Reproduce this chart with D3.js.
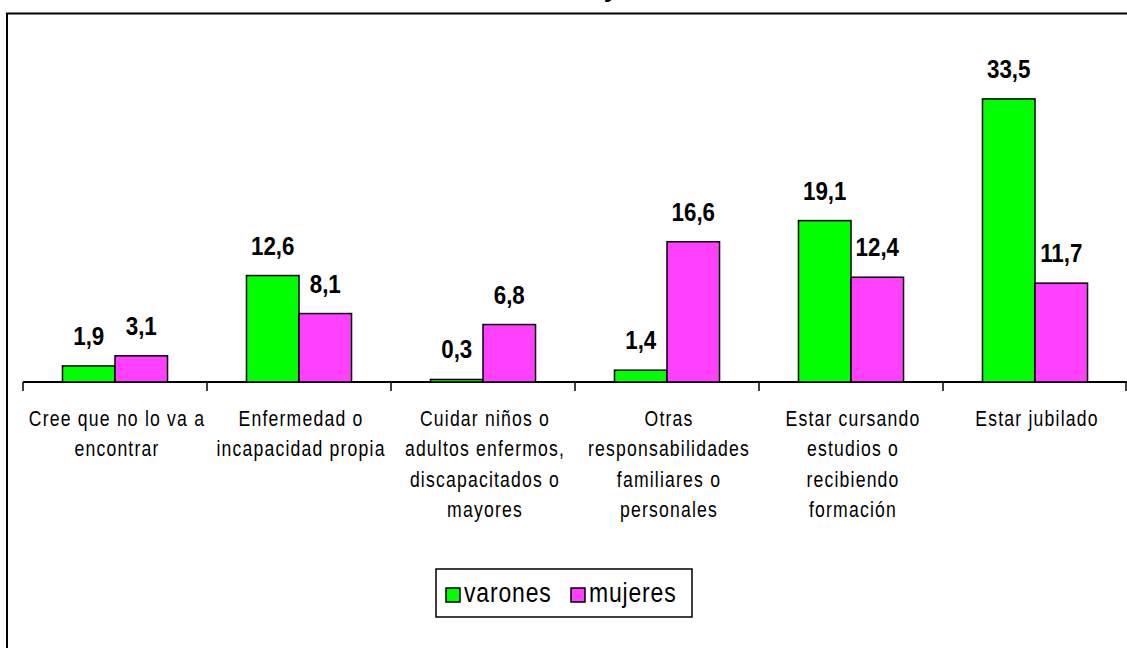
<!DOCTYPE html>
<html>
<head>
<meta charset="utf-8">
<script src="https://cdn.jsdelivr.net/npm/d3@7"></script>
<style>
  body { margin: 0; background: #fff; }
  svg { display: block; }
  text { font-family: Arial, "Liberation Sans", sans-serif; fill: #000; }
</style>
</head>
<body>
<div id="chart"></div>
<script>
// Daten
const categories = [
  ["Cree que no lo va a", "encontrar"],
  ["Enfermedad o", "incapacidad propia"],
  ["Cuidar niños o", "adultos enfermos,", "discapacitados o", "mayores"],
  ["Otras", "responsabilidades", "familiares o", "personales"],
  ["Estar cursando", "estudios o", "recibiendo", "formación"],
  ["Estar jubilado"]
];
const seriesNames = ["varones", "mujeres"];
const varones = [1.9, 12.6, 0.3, 1.4, 19.1, 33.5];
const mujeres = [3.1, 8.1, 6.8, 16.6, 12.4, 11.7];
const colors = ["#00ff00", "#ff40ff"];

const width = 1127, height = 648;
const baseY = 382;
const fmt = v => v.toFixed(1).replace(".", ",");

const svg = d3.select("#chart").append("svg")
  .attr("width", width)
  .attr("height", height);

// Rahmen (läuft rechts und unten aus dem Bild)
svg.append("rect")
  .attr("x", 7).attr("y", 13.5)
  .attr("width", 1300).attr("height", 800)
  .attr("fill", "none").attr("stroke", "#000").attr("stroke-width", 2);

// abgeschnittener Titel
svg.append("text")
  .attr("x", 611).attr("y", -3)
  .attr("text-anchor", "middle")
  .style("font-size", "26px").style("font-weight", "bold")
  .text("y");

// Skalen
const idx = d3.range(categories.length);
const x0 = d3.scaleBand().domain(idx).range([23, 1127]).padding(0);
const bw = x0.bandwidth();
const x1 = d3.scaleBand().domain(seriesNames).range([0.2145 * bw, 0.7855 * bw]).padding(0);
const y = d3.scaleLinear().domain([0, 35]).range([baseY, baseY - 35 * 8.45]);

// X-Achse
const xAxis = d3.axisBottom(x0).tickSize(0).tickFormat("");
const gx = svg.append("g")
  .attr("transform", `translate(0,${baseY})`)
  .call(xAxis);
gx.select(".domain").attr("stroke", "#000").attr("stroke-width", 2).attr("d", "M23,0H1127");

// Trennstriche zwischen Kategorien
svg.append("g").selectAll("line")
  .data(d3.range(categories.length + 1))
  .join("line")
    .attr("x1", d => 23 + d * bw - (d === categories.length ? 1 : 0))
    .attr("x2", d => 23 + d * bw - (d === categories.length ? 1 : 0))
    .attr("y1", baseY).attr("y2", baseY + 9)
    .attr("stroke", "#000").attr("stroke-width", 1.5);

// Balken
const rows = idx.map(i => [
  { s: "varones", v: varones[i], c: colors[0] },
  { s: "mujeres", v: mujeres[i], c: colors[1] }
]);

const groups = svg.append("g").selectAll("g")
  .data(rows)
  .join("g")
    .attr("transform", (d, i) => `translate(${x0(i)},0)`);

groups.selectAll("rect")
  .data(d => d)
  .join("rect")
    .attr("x", d => x1(d.s))
    .attr("y", d => y(d.v))
    .attr("width", x1.bandwidth())
    .attr("height", d => baseY - y(d.v))
    .attr("fill", d => d.c)
    .attr("stroke", "#000")
    .attr("stroke-width", 1.5);

// Wertbeschriftungen
groups.selectAll("text.val")
  .data(d => d)
  .join("text")
    .attr("class", "val")
    .attr("transform", d => `translate(${x1(d.s) + x1.bandwidth() / 2},${y(d.v) - 21}) scale(0.86,1)`)
    .attr("text-anchor", "middle")
    .style("font-size", "26px")
    .style("font-weight", "bold")
    .text(d => fmt(d.v));

// Kategorienbeschriftungen
const labels = svg.append("g").selectAll("g")
  .data(categories)
  .join("g")
    .attr("transform", (d, i) => `translate(${x0(i) + bw / 2 + 2},0)`);

labels.selectAll("text")
  .data(d => d)
  .join("text")
    .attr("transform", (d, j) => `translate(0,${426 + j * 30.3}) scale(0.8,1)`)
    .attr("text-anchor", "middle")
    .style("font-size", "22px")
    .style("letter-spacing", "1.5px")
    .text(d => d);

// Legende
const legend = svg.append("g");
legend.append("rect")
  .attr("x", 436).attr("y", 569)
  .attr("width", 256).attr("height", 48)
  .attr("fill", "#fff").attr("stroke", "#000").attr("stroke-width", 1.5);

const legX = [446, 571];
const li = legend.selectAll("g")
  .data(seriesNames)
  .join("g")
    .attr("transform", (d, i) => `translate(${legX[i]},0)`);
li.append("rect")
  .attr("x", 0).attr("y", 588)
  .attr("width", 14).attr("height", 14)
  .attr("fill", (d, i) => colors[i])
  .attr("stroke", "#000").attr("stroke-width", 1.5);
li.append("text")
  .attr("transform", "translate(18,602) scale(0.85,1)")
  .style("font-size", "27px")
  .style("letter-spacing", "1px")
  .text(d => d);
</script>
</body>
</html>
